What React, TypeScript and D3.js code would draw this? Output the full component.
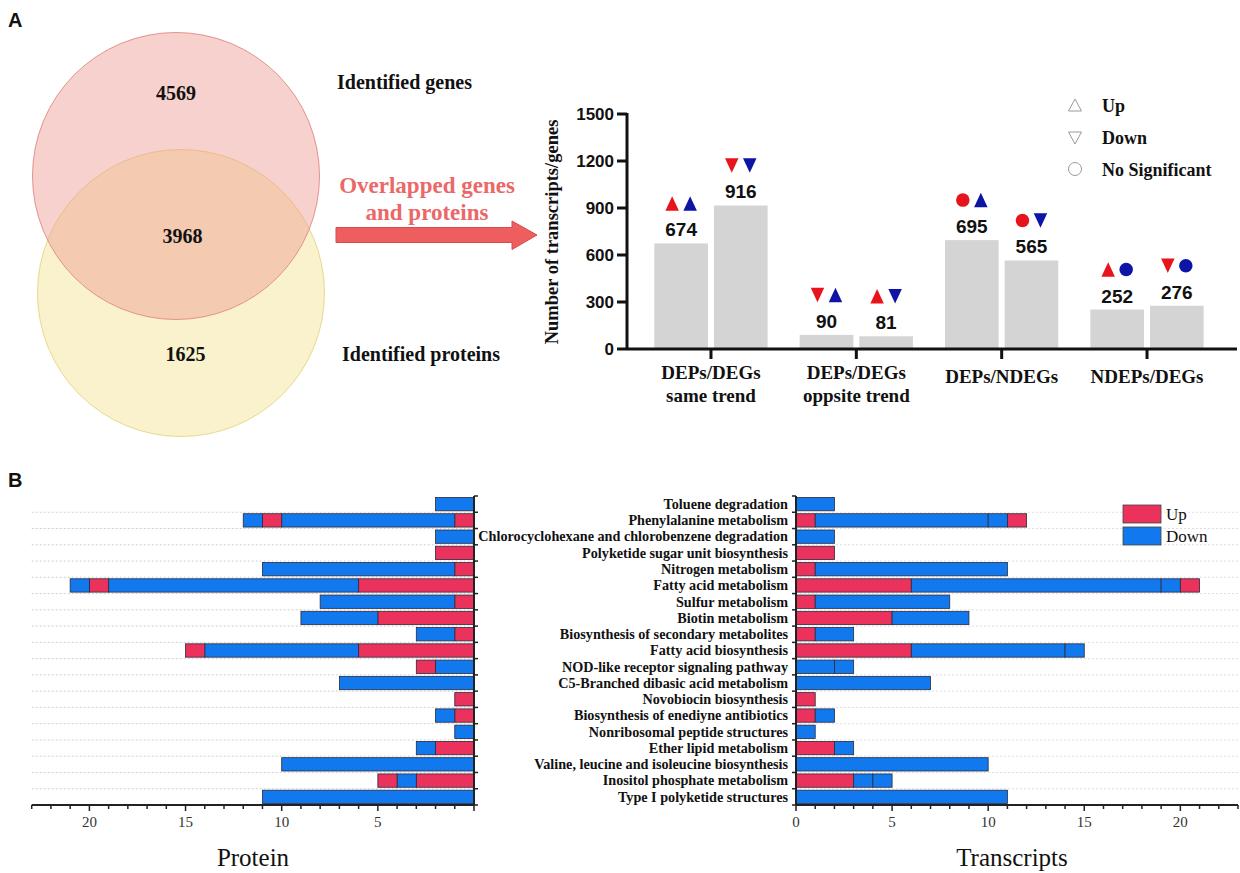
import React from 'react';
import * as d3 from 'd3';

const SERIF = "'Liberation Serif', 'Times New Roman', serif";
const SANS = "'Liberation Sans', Arial, sans-serif";

// Panel A - venn
const vennSets = ["Identified genes", "Identified proteins"];
const vennCounts = [4569, 3968, 1625];

// Panel A - overlap bar chart
const overlapGroups = [["DEPs/DEGs", "same trend"], ["DEPs/DEGs", "oppsite trend"], ["DEPs/NDEGs"], ["NDEPs/DEGs"]];
const overlapValues = [674, 916, 90, 81, 695, 565, 252, 276];
const proteinTrend = ["up", "down", "down", "up", "none", "none", "up", "down"];
const geneTrend = ["up", "down", "up", "down", "up", "down", "none", "none"];
const countTicks = [0, 300, 600, 900, 1200, 1500];
const trendLegend = [["up", "Up"], ["down", "Down"], ["none", "No Significant"]];

// Panel B - KEGG pathways
const pathways = [
  "Toluene degradation",
  "Phenylalanine metabolism",
  "Chlorocyclohexane and chlorobenzene degradation",
  "Polyketide sugar unit biosynthesis",
  "Nitrogen metabolism",
  "Fatty acid metabolism",
  "Sulfur metabolism",
  "Biotin metabolism",
  "Biosynthesis of secondary metabolites",
  "Fatty acid biosynthesis",
  "NOD-like receptor signaling pathway",
  "C5-Branched dibasic acid metabolism",
  "Novobiocin biosynthesis",
  "Biosynthesis of enediyne antibiotics",
  "Nonribosomal peptide structures",
  "Ether lipid metabolism",
  "Valine, leucine and isoleucine biosynthesis",
  "Inositol phosphate metabolism",
  "Type I polyketide structures",
];

// stacked pieces per pathway: [U = up, D = down, count]
const proteinSegs: [string, number][][] = [
  [["D", 2]],
  [["U", 1], ["D", 9], ["U", 1], ["D", 1]],
  [["D", 2]],
  [["U", 2]],
  [["U", 1], ["D", 10]],
  [["U", 6], ["D", 13], ["U", 1], ["D", 1]],
  [["U", 1], ["D", 7]],
  [["U", 5], ["D", 4]],
  [["U", 1], ["D", 2]],
  [["U", 6], ["D", 8], ["U", 1]],
  [["D", 2], ["U", 1]],
  [["D", 7]],
  [["U", 1]],
  [["U", 1], ["D", 1]],
  [["D", 1]],
  [["U", 2], ["D", 1]],
  [["D", 10]],
  [["U", 3], ["D", 1], ["U", 1]],
  [["D", 11]],
];

const transcriptSegs: [string, number][][] = [
  [["D", 2]],
  [["U", 1], ["D", 9], ["D", 1], ["U", 1]],
  [["D", 2]],
  [["U", 2]],
  [["U", 1], ["D", 10]],
  [["U", 6], ["D", 13], ["D", 1], ["U", 1]],
  [["U", 1], ["D", 7]],
  [["U", 5], ["D", 4]],
  [["U", 1], ["D", 2]],
  [["U", 6], ["D", 8], ["D", 1]],
  [["D", 2], ["D", 1]],
  [["D", 7]],
  [["U", 1]],
  [["U", 1], ["D", 1]],
  [["D", 1]],
  [["U", 2], ["D", 1]],
  [["D", 10]],
  [["U", 3], ["D", 1], ["D", 1]],
  [["D", 11]],
];

const countTicksB = d3.range(0, 24);
const upDownLegend = [["U", "Up"], ["D", "Down"]];

const UP_COLOR = "#EA325C";
const DOWN_COLOR = "#1278EE";
const segColor = (t: string) => (t === "U" ? UP_COLOR : DOWN_COLOR);

// triangle / circle glyph centred on 0,0
function glyph(kind: string, w: number, h: number) {
  if (kind === "up") return `M0,${-h / 2}L${w / 2},${h / 2}L${-w / 2},${h / 2}Z`;
  if (kind === "down") return `M0,${h / 2}L${w / 2},${-h / 2}L${-w / 2},${-h / 2}Z`;
  return d3.symbol().type(d3.symbolCircle).size(Math.PI * (w / 2) * (w / 2))()!;
}

const Venn: React.FC = () => {
  const circles = [
    {cx: 181, cy: 293, fill: "#F3E38F", stroke: "#E8D98A"},
    {cx: 176, cy: 176, fill: "#EE9A90", stroke: "#E3938A"},
  ];
  return (
    <g>
      {circles.map((c, i) => (
        <circle key={i} cx={c.cx} cy={c.cy} r={143.5} fill={c.fill} fillOpacity={0.45} stroke={c.stroke} strokeWidth={1}/>
      ))}
      <g fontFamily={SERIF} fontWeight="bold" fontSize={20} textAnchor="middle" fill="#111">
        <text x={176} y={100}>{vennCounts[0]}</text>
        <text x={182.5} y={243}>{vennCounts[1]}</text>
        <text x={185.5} y={360.5}>{vennCounts[2]}</text>
      </g>
      <g fontFamily={SERIF} fontWeight="bold" fontSize={20} fill="#111">
        <text x={337} y={89}>{vennSets[0]}</text>
        <text x={342} y={360.5}>{vennSets[1]}</text>
      </g>
      <g fontFamily={SERIF} fontWeight="bold" fontSize={23} textAnchor="middle" fill="#EB6868">
        <text x={427} y={193}>Overlapped genes</text>
        <text x={427} y={220}>and proteins</text>
      </g>
      <path d="M336,227.5L512,227.5L512,221L537,235L512,249.5L512,242.5L336,242.5Z" fill="#EF5E5E" stroke="#D44C4C" strokeWidth={1}/>
    </g>
  );
};

const OverlapBars: React.FC = () => {
  const y = d3.scaleLinear().domain([0, 1500]).range([349, 114]);
  const xGroup = d3.scaleBand<number>().domain(d3.range(overlapGroups.length)).range([638.3, 1219.7]);
  const xInner = d3.scaleBand<number>().domain([0, 1]).range([16, 129.3]).paddingInner(0.1);
  const bw = xInner.bandwidth();
  const bars = overlapValues.map((v, i) => {
    const x = xGroup(Math.floor(i / 2))! + xInner(i % 2)!;
    return {v, i, x, cx: x + bw / 2, top: y(v)};
  });
  const x0 = 627, x1 = 1237;
  return (
    <g>
      {bars.map(b => (
        <rect key={b.i} x={b.x} y={b.top} width={bw} height={y(0) - b.top} fill="#D4D4D4"/>
      ))}
      <line x1={x0} x2={x0} y1={y(1500) - 1} y2={y(0) + 1} stroke="#111" strokeWidth={3}/>
      <line x1={x0} x2={x1} y1={y(0)} y2={y(0)} stroke="#111" strokeWidth={3}/>
      {countTicks.map(t => (
        <g key={t}>
          <line x1={x0 - 10} x2={x0} y1={y(t)} y2={y(t)} stroke="#111" strokeWidth={3}/>
          <text x={x0 - 13} y={y(t)} dy="0.36em" textAnchor="end" fontFamily={SANS} fontWeight="bold" fontSize={17} fill="#111">{t}</text>
        </g>
      ))}
      {overlapGroups.map((g, i) => {
        const cx = xGroup(i)! + xGroup.bandwidth() / 2;
        return (
          <g key={i}>
            <line x1={cx} x2={cx} y1={y(0)} y2={y(0) + 10} stroke="#111" strokeWidth={3}/>
            <text textAnchor="middle" fontFamily={SERIF} fontWeight="bold" fontSize={19} fill="#111">
              {g.length === 2 ? (
                <>
                  <tspan x={cx} y={379}>{g[0]}</tspan>
                  <tspan x={cx} y={402}>{g[1]}</tspan>
                </>
              ) : (
                <tspan x={cx} y={383}>{g[0]}</tspan>
              )}
            </text>
          </g>
        );
      })}
      {bars.map(b => (
        <g key={"l" + b.i}>
          <text x={b.cx} y={b.top - 7} textAnchor="middle" fontFamily={SANS} fontWeight="bold" fontSize={19} fill="#111">{b.v}</text>
          <path transform={`translate(${b.cx - 9},${b.top - 40})`} d={glyph(proteinTrend[b.i], 13.5, 14.5)} fill="#E8141C"/>
          <path transform={`translate(${b.cx + 9},${b.top - 40})`} d={glyph(geneTrend[b.i], 13.5, 14.5)} fill="#0E14A6"/>
        </g>
      ))}
      <text transform={`translate(558,232) rotate(-90)`} textAnchor="middle" fontFamily={SERIF} fontWeight="bold" fontSize={18.5} fill="#111">Number of transcripts/genes</text>
      {trendLegend.map(([k, label], i) => (
        <g key={k} transform={`translate(0,${i * 32})`}>
          <path transform={`translate(1075,${105 + (k === "down" ? 1 : 0)})`} d={glyph(k, 13, 12)} fill="none" stroke="#9a9a9a" strokeWidth={1}/>
          <text x={1102} y={111.5} fontFamily={SERIF} fontWeight="bold" fontSize={18} fill="#111">{label}</text>
        </g>
      ))}
    </g>
  );
};

const PathwayChart: React.FC<{segs: [string, number][][], side: "left" | "right", title: string}> = ({segs, side, title}) => {
  const x = side === "left"
    ? d3.scaleLinear().domain([0, 23]).range([474, 31.7])
    : d3.scaleLinear().domain([0, 23]).range([796, 1238]);
  const y = d3.scaleBand<number>().domain(d3.range(pathways.length)).range([496, 805]).paddingInner(0.18).paddingOuter(0.09);
  const step = y.step();
  const [r0, r1] = [x(0), x(23)];
  const gx0 = Math.min(r0, r1), gx1 = Math.max(r0, r1);
  const yBottom = 805;
  const tickDir = side === "left" ? 1 : -1;
  return (
    <g>
      {d3.range(1, pathways.length).map(i => (
        <line key={i} x1={gx0} x2={gx1} y1={496 + i * step} y2={496 + i * step}
              stroke={side === "left" ? "#cfcfcf" : "#dedede"} strokeWidth={1} strokeDasharray="2,2"/>
      ))}
      {segs.map((row, ri) => {
        let acc = 0;
        return row.map(([t, n], si) => {
          const a = x(acc), b = x(acc + n);
          acc += n;
          return (
            <rect key={ri + "-" + si} x={Math.min(a, b)} width={Math.abs(b - a)} y={y(ri)} height={y.bandwidth()}
                  fill={segColor(t)} stroke="#2a2a3a" strokeWidth={0.8}/>
          );
        });
      })}
      <line x1={x(0)} x2={x(0)} y1={496} y2={yBottom} stroke="#222" strokeWidth={2}/>
      {d3.range(0, pathways.length + 1).map(i => (
        <line key={i} x1={x(0)} x2={x(0) + tickDir * 4} y1={496 + i * step} y2={496 + i * step} stroke="#222" strokeWidth={1.5}/>
      ))}
      <line x1={gx0} x2={gx1} y1={yBottom} y2={yBottom} stroke="#222" strokeWidth={2}/>
      {countTicksB.map(t => (
        <line key={t} x1={x(t)} x2={x(t)} y1={yBottom} y2={yBottom + (t % 5 === 0 ? 6 : 4)} stroke="#222" strokeWidth={1.5}/>
      ))}
      {countTicksB.filter(t => t % 5 === 0 && (side === "right" || t > 0)).map(t => (
        <text key={t} x={x(t)} y={827} textAnchor="middle" fontFamily={SERIF} fontSize={15} fill="#333">{t}</text>
      ))}
      <text x={side === "left" ? 253 : 1012} y={866} textAnchor="middle" fontFamily={SERIF} fontSize={25} fill="#111">{title}</text>
      {side === "right" && pathways.map((p, i) => (
        <text key={p} x={788} y={y(i)! + y.bandwidth() / 2} dy="0.34em" textAnchor="end" fontFamily={SERIF} fontWeight="bold" fontSize={14.2} fill="#111">{p}</text>
      ))}
    </g>
  );
};

const App: React.FC = () => {
  return (
    <svg width={1240} height={873} style={{position: "absolute", left: 0, top: 0, background: "#fff"}}>
      <rect width={1240} height={873} fill="#fff"/>
      <text x={8} y={27} fontFamily={SANS} fontWeight="bold" fontSize={20} fill="#111">A</text>
      <text x={8} y={487} fontFamily={SANS} fontWeight="bold" fontSize={20} fill="#111">B</text>
      <Venn/>
      <OverlapBars/>
      <PathwayChart segs={proteinSegs} side="left" title="Protein"/>
      <PathwayChart segs={transcriptSegs} side="right" title="Transcripts"/>
      {upDownLegend.map(([k, label], i) => (
        <g key={k}>
          <rect x={1123} y={505 + i * 22} width={38} height={18} fill={segColor(k)} stroke="#444" strokeWidth={0.8}/>
          <text x={1166} y={520 + i * 21.5} fontFamily={SERIF} fontSize={17} fill="#111">{label}</text>
        </g>
      ))}
    </svg>
  );
};

export default App;
